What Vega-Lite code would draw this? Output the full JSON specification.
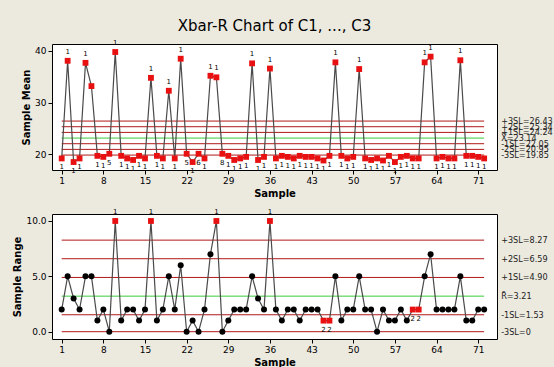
{
  "$schema": "https://vega.github.io/schema/vega-lite/v6.json",
  "autosize": {"type": "pad"},
  "padding": {"left": 12, "top": 18, "right": 0, "bottom": 0},
  "background": "#ECE9DF",
  "bounds": "flush",
  "spacing": 44,
  "title": {"text": "Xbar-R Chart of C1, ..., C3", "font": "DejaVu Sans", "fontSize": 15, "fontWeight": "normal", "anchor": "middle", "frame": "group", "offset": 5, "color": "black"},
  "datasets": {
    "means": [
      {"s":1,"mean":19.2,"t":"1"},{"s":2,"mean":38.1,"t":"1"},{"s":3,"mean":18.5,"t":"1"},{"s":4,"mean":19.2,"t":"1"},{"s":5,"mean":37.7,"t":"1"},{"s":6,"mean":33.2,"t":null},{"s":7,"mean":19.7,"t":"1"},{"s":8,"mean":19.5,"t":"1"},{"s":9,"mean":20.1,"t":"5"},{"s":10,"mean":39.8,"t":"1"},
      {"s":11,"mean":19.7,"t":"1"},{"s":12,"mean":19.2,"t":"1"},{"s":13,"mean":18.9,"t":"1"},{"s":14,"mean":19.7,"t":"1"},{"s":15,"mean":19.2,"t":"1"},{"s":16,"mean":34.8,"t":"1"},{"s":17,"mean":19.7,"t":"1"},{"s":18,"mean":19.2,"t":"1"},{"s":19,"mean":32.3,"t":"1"},{"s":20,"mean":19.2,"t":"1"},
      {"s":21,"mean":38.5,"t":"1"},{"s":22,"mean":20.1,"t":"5"},{"s":23,"mean":18.5,"t":"1"},{"s":24,"mean":20.1,"t":"6"},{"s":25,"mean":19.2,"t":"1"},{"s":26,"mean":35.2,"t":"1"},{"s":27,"mean":34.9,"t":"1"},{"s":28,"mean":20.1,"t":"8"},{"s":29,"mean":19.7,"t":"1"},{"s":30,"mean":18.9,"t":"1"},
      {"s":31,"mean":19.2,"t":"1"},{"s":32,"mean":19.5,"t":"1"},{"s":33,"mean":37.6,"t":"1"},{"s":34,"mean":18.9,"t":"1"},{"s":35,"mean":19.5,"t":"1"},{"s":36,"mean":36.6,"t":"1"},{"s":37,"mean":19.2,"t":"1"},{"s":38,"mean":19.7,"t":"1"},{"s":39,"mean":19.5,"t":"1"},{"s":40,"mean":19.2,"t":"1"},
      {"s":41,"mean":19.7,"t":"1"},{"s":42,"mean":19.5,"t":"1"},{"s":43,"mean":19.5,"t":"1"},{"s":44,"mean":19.2,"t":"1"},{"s":45,"mean":18.8,"t":"1"},{"s":46,"mean":19.7,"t":"1"},{"s":47,"mean":37.8,"t":"1"},{"s":48,"mean":19.7,"t":"1"},{"s":49,"mean":19.2,"t":"1"},{"s":50,"mean":19.5,"t":"1"},
      {"s":51,"mean":36.5,"t":"1"},{"s":52,"mean":19.2,"t":"1"},{"s":53,"mean":18.9,"t":"1"},{"s":54,"mean":19.2,"t":"1"},{"s":55,"mean":18.8,"t":"1"},{"s":56,"mean":19.7,"t":"1"},{"s":57,"mean":18.5,"t":"1"},{"s":58,"mean":19.5,"t":"1"},{"s":59,"mean":19.7,"t":"1"},{"s":60,"mean":19.2,"t":"1"},
      {"s":61,"mean":19.2,"t":"1"},{"s":62,"mean":37.8,"t":"1"},{"s":63,"mean":38.9,"t":"1"},{"s":64,"mean":19.2,"t":"1"},{"s":65,"mean":19.5,"t":"1"},{"s":66,"mean":19.2,"t":"1"},{"s":67,"mean":19.2,"t":"1"},{"s":68,"mean":38.2,"t":"1"},{"s":69,"mean":19.7,"t":"1"},{"s":70,"mean":19.7,"t":"1"},
      {"s":71,"mean":19.5,"t":"1"},{"s":72,"mean":19.2,"t":"1"}
    ],
    "ranges": [
      {"s":1,"r":2,"t":null},{"s":2,"r":5,"t":null},{"s":3,"r":3,"t":null},{"s":4,"r":2,"t":null},{"s":5,"r":5,"t":null},{"s":6,"r":5,"t":null},{"s":7,"r":1,"t":null},{"s":8,"r":2,"t":null},{"s":9,"r":0,"t":null},{"s":10,"r":10,"t":"1"},
      {"s":11,"r":1,"t":null},{"s":12,"r":2,"t":null},{"s":13,"r":2,"t":null},{"s":14,"r":1,"t":null},{"s":15,"r":2,"t":null},{"s":16,"r":10,"t":"1"},{"s":17,"r":1,"t":null},{"s":18,"r":2,"t":null},{"s":19,"r":5,"t":null},{"s":20,"r":2,"t":null},
      {"s":21,"r":6,"t":null},{"s":22,"r":0,"t":null},{"s":23,"r":1,"t":null},{"s":24,"r":0,"t":null},{"s":25,"r":2,"t":null},{"s":26,"r":7,"t":null},{"s":27,"r":10,"t":"1"},{"s":28,"r":0,"t":null},{"s":29,"r":1,"t":null},{"s":30,"r":2,"t":null},
      {"s":31,"r":2,"t":null},{"s":32,"r":2,"t":null},{"s":33,"r":5,"t":null},{"s":34,"r":3,"t":null},{"s":35,"r":2,"t":null},{"s":36,"r":10,"t":"1"},{"s":37,"r":2,"t":null},{"s":38,"r":1,"t":null},{"s":39,"r":2,"t":null},{"s":40,"r":2,"t":null},
      {"s":41,"r":1,"t":null},{"s":42,"r":2,"t":null},{"s":43,"r":2,"t":null},{"s":44,"r":2,"t":null},{"s":45,"r":1,"t":"2"},{"s":46,"r":1,"t":"2"},{"s":47,"r":5,"t":null},{"s":48,"r":1,"t":null},{"s":49,"r":2,"t":null},{"s":50,"r":2,"t":null},
      {"s":51,"r":5,"t":null},{"s":52,"r":2,"t":null},{"s":53,"r":2,"t":null},{"s":54,"r":0,"t":null},{"s":55,"r":2,"t":null},{"s":56,"r":1,"t":null},{"s":57,"r":1,"t":null},{"s":58,"r":2,"t":null},{"s":59,"r":1,"t":null},{"s":60,"r":2,"t":"2"},
      {"s":61,"r":2,"t":"2"},{"s":62,"r":5,"t":null},{"s":63,"r":7,"t":null},{"s":64,"r":2,"t":null},{"s":65,"r":2,"t":null},{"s":66,"r":2,"t":null},{"s":67,"r":2,"t":null},{"s":68,"r":5,"t":null},{"s":69,"r":1,"t":null},{"s":70,"r":1,"t":null},
      {"s":71,"r":2,"t":null},{"s":72,"r":2,"t":null}
    ],
    "meanLimits": [
      {"v":26.43,"lab":"+3SL=26.43","kind":"limit"},
      {"v":25.34,"lab":"+2SL=25.34","kind":"limit"},
      {"v":24.24,"lab":"+1SL=24.24","kind":"limit"},
      {"v":23.14,"lab":"X̿=23.14","kind":"center"},
      {"v":22.05,"lab":"-1SL=22.05","kind":"limit"},
      {"v":20.95,"lab":"-2SL=20.95","kind":"limit"},
      {"v":19.85,"lab":"-3SL=19.85","kind":"limit"}
    ],
    "rangeLimits": [
      {"v":8.27,"lab":"+3SL=8.27","kind":"limit"},
      {"v":6.59,"lab":"+2SL=6.59","kind":"limit"},
      {"v":4.90,"lab":"+1SL=4.90","kind":"limit"},
      {"v":3.21,"lab":"R̄=3.21","kind":"center"},
      {"v":1.53,"lab":"-1SL=1.53","kind":"limit"},
      {"v":0,"lab":"-3SL=0","kind":"limit"}
    ]
  },
  "vconcat": [
    {
      "width": 445,
      "height": 126,
      "layer": [
        {
          "data": {"name": "meanLimits"},
          "mark": {"type": "rule", "strokeWidth": 1},
          "encoding": {
            "x": {"datum": 1, "type": "quantitative", "scale": {"domain": [-0.63, 74.16], "nice": false, "zero": false}, "axis": {"title": "Sample", "values": [1,8,15,22,29,36,43,50,57,64,71]}},
            "x2": {"datum": 72},
            "y": {"field": "v", "type": "quantitative", "scale": {"domain": [16.96, 41.35], "nice": false, "zero": false}, "axis": {"title": "Sample Mean", "values": [20,25,30,35,40]}},
            "color": {"field": "kind", "type": "nominal", "scale": {"domain": ["limit","center"], "range": ["#B01818","#3CCB3C"]}, "legend": null}
          }
        },
        {
          "data": {"name": "meanLimits"},
          "mark": {"type": "text", "align": "left", "baseline": "middle", "dx": 17, "font": "Liberation Sans Narrow, DejaVu Sans Condensed, Liberation Sans", "fontSize": 9, "color": "#222"},
          "encoding": {
            "x": {"datum": 72, "type": "quantitative"},
            "y": {"field": "v", "type": "quantitative"},
            "text": {"field": "lab"}
          }
        },
        {
          "data": {"name": "means"},
          "mark": {"type": "line", "color": "#4a4a4a", "strokeWidth": 1.2},
          "encoding": {
            "x": {"field": "s", "type": "quantitative"},
            "y": {"field": "mean", "type": "quantitative"}
          }
        },
        {
          "data": {"name": "means"},
          "mark": {"type": "point", "shape": "square", "filled": true, "color": "#E81010", "size": 34, "opacity": 1},
          "encoding": {
            "x": {"field": "s", "type": "quantitative"},
            "y": {"field": "mean", "type": "quantitative"}
          }
        },
        {
          "data": {"name": "means"},
          "transform": [{"filter": "datum.t != null && datum.mean > 25"}],
          "mark": {"type": "text", "dy": -9, "font": "DejaVu Sans", "fontSize": 7, "color": "black"},
          "encoding": {
            "x": {"field": "s", "type": "quantitative"},
            "y": {"field": "mean", "type": "quantitative"},
            "text": {"field": "t"}
          }
        },
        {
          "data": {"name": "means"},
          "transform": [{"filter": "datum.t != null && datum.mean < 25"}],
          "mark": {"type": "text", "dy": 9, "font": "DejaVu Sans", "fontSize": 7, "color": "black"},
          "encoding": {
            "x": {"field": "s", "type": "quantitative"},
            "y": {"field": "mean", "type": "quantitative"},
            "text": {"field": "t"}
          }
        }
      ]
    },
    {
      "width": 445,
      "height": 125,
      "layer": [
        {
          "data": {"name": "rangeLimits"},
          "mark": {"type": "rule", "strokeWidth": 1},
          "encoding": {
            "x": {"datum": 1, "type": "quantitative", "scale": {"domain": [-0.63, 74.16], "nice": false, "zero": false}, "axis": {"title": "Sample", "values": [1,8,15,22,29,36,43,50,57,64,71]}},
            "x2": {"datum": 72},
            "y": {"field": "v", "type": "quantitative", "scale": {"domain": [-0.66, 10.63], "nice": false, "zero": false}, "axis": {"title": "Sample Range", "values": [0,2.5,5,7.5,10], "format": ".1f"}},
            "color": {"field": "kind", "type": "nominal", "scale": {"domain": ["limit","center"], "range": ["#B01818","#3CCB3C"]}, "legend": null}
          }
        },
        {
          "data": {"name": "rangeLimits"},
          "mark": {"type": "text", "align": "left", "baseline": "middle", "dx": 17, "font": "Liberation Sans Narrow, DejaVu Sans Condensed, Liberation Sans", "fontSize": 9, "color": "#222"},
          "encoding": {
            "x": {"datum": 72, "type": "quantitative"},
            "y": {"field": "v", "type": "quantitative"},
            "text": {"field": "lab"}
          }
        },
        {
          "data": {"name": "ranges"},
          "mark": {"type": "line", "color": "#4a4a4a", "strokeWidth": 1.2},
          "encoding": {
            "x": {"field": "s", "type": "quantitative"},
            "y": {"field": "r", "type": "quantitative"}
          }
        },
        {
          "data": {"name": "ranges"},
          "transform": [{"filter": "datum.t == null"}],
          "mark": {"type": "point", "shape": "circle", "filled": true, "color": "black", "size": 36, "opacity": 1},
          "encoding": {
            "x": {"field": "s", "type": "quantitative"},
            "y": {"field": "r", "type": "quantitative"}
          }
        },
        {
          "data": {"name": "ranges"},
          "transform": [{"filter": "datum.t != null"}],
          "mark": {"type": "point", "shape": "square", "filled": true, "color": "#E81010", "size": 34, "opacity": 1},
          "encoding": {
            "x": {"field": "s", "type": "quantitative"},
            "y": {"field": "r", "type": "quantitative"}
          }
        },
        {
          "data": {"name": "ranges"},
          "transform": [{"filter": "datum.t != null && datum.r > 5"}],
          "mark": {"type": "text", "dy": -9, "font": "DejaVu Sans", "fontSize": 7, "color": "black"},
          "encoding": {
            "x": {"field": "s", "type": "quantitative"},
            "y": {"field": "r", "type": "quantitative"},
            "text": {"field": "t"}
          }
        },
        {
          "data": {"name": "ranges"},
          "transform": [{"filter": "datum.t != null && datum.r < 5"}],
          "mark": {"type": "text", "dy": 9, "font": "DejaVu Sans", "fontSize": 7, "color": "black"},
          "encoding": {
            "x": {"field": "s", "type": "quantitative"},
            "y": {"field": "r", "type": "quantitative"},
            "text": {"field": "t"}
          }
        }
      ]
    }
  ],
  "config": {
    "view": {"fill": "white", "stroke": "black", "strokeWidth": 1},
    "axis": {
      "grid": false,
      "domain": false,
      "tickColor": "black",
      "tickSize": 4,
      "labelFont": "DejaVu Sans",
      "labelFontSize": 9,
      "labelColor": "black",
      "titleFont": "DejaVu Sans",
      "titleFontSize": 10,
      "titleFontWeight": "bold",
      "titleColor": "black",
      "labelPadding": 2,
      "titlePadding": 3
    }
  }
}
